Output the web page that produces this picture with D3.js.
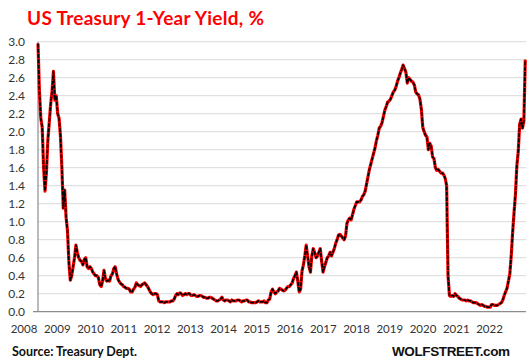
<!DOCTYPE html>
<html><head><meta charset="utf-8">
<script src="https://cdn.jsdelivr.net/npm/d3@7"></script>
<style>
html,body{margin:0;padding:0;background:#fff;}
svg{display:block;}
</style></head>
<body>
<svg id="chart" width="529" height="364"></svg>
<script>
// ---- data ----
const titleText = "US Treasury 1-Year Yield, %";
const sourceText = "Source: Treasury Dept.";
const brandText = "WOLFSTREET.com";
const startYear = 2008;          // first observation, values every half month
const stepsPerYear = 24;
const yearLabels = ["2008","2009","2010","2011","2012","2013","2014","2015","2016","2017","2018","2019","2020","2021","2022"];
const yTicks = [0,0.2,0.4,0.6,0.8,1.0,1.2,1.4,1.6,1.8,2.0,2.2,2.4,2.6,2.8,3.0];
const y2008 = [2.98,2.45,2.15,2.05,1.60,1.34,1.55,1.90,2.10,2.30,2.45,2.67,2.35,2.40,2.20,2.15,1.95,1.60,1.15,1.35,1.05,0.90,0.55,0.35];
const y2009 = [0.40,0.50,0.60,0.74,0.66,0.60,0.57,0.56,0.52,0.58,0.60,0.50,0.48,0.50,0.48,0.44,0.42,0.40,0.40,0.38,0.30,0.28,0.34,0.46];
const y2010 = [0.37,0.34,0.35,0.34,0.40,0.42,0.48,0.50,0.42,0.36,0.33,0.31,0.30,0.28,0.27,0.26,0.26,0.25,0.22,0.22,0.25,0.27,0.32,0.30];
const y2011 = [0.29,0.28,0.30,0.31,0.32,0.30,0.28,0.25,0.22,0.20,0.19,0.20,0.20,0.19,0.12,0.11,0.11,0.11,0.10,0.11,0.11,0.11,0.11,0.12];
const y2012 = [0.12,0.14,0.18,0.20,0.19,0.21,0.20,0.18,0.19,0.20,0.19,0.20,0.20,0.18,0.18,0.19,0.18,0.17,0.17,0.18,0.18,0.17,0.16,0.16];
const y2013 = [0.15,0.15,0.16,0.16,0.15,0.14,0.13,0.12,0.12,0.13,0.14,0.16,0.13,0.12,0.13,0.13,0.12,0.11,0.13,0.12,0.12,0.12,0.13,0.13];
const y2014 = [0.12,0.11,0.12,0.12,0.13,0.13,0.11,0.11,0.10,0.10,0.10,0.10,0.11,0.12,0.11,0.11,0.11,0.12,0.10,0.10,0.13,0.14,0.22,0.25];
const y2015 = [0.22,0.20,0.22,0.23,0.26,0.25,0.24,0.23,0.24,0.26,0.28,0.28,0.30,0.32,0.37,0.40,0.44,0.34,0.22,0.25,0.45,0.52,0.62,0.74];
const y2016 = [0.62,0.50,0.44,0.62,0.70,0.66,0.60,0.62,0.66,0.70,0.56,0.44,0.50,0.55,0.60,0.62,0.66,0.62,0.66,0.70,0.76,0.80,0.85,0.86];
const y2017 = [0.84,0.82,0.80,0.84,0.98,1.02,1.04,1.02,1.08,1.14,1.18,1.22,1.22,1.22,1.24,1.28,1.30,1.34,1.42,1.50,1.58,1.64,1.70,1.76];
const y2018 = [1.82,1.90,1.96,2.04,2.06,2.10,2.17,2.24,2.28,2.33,2.34,2.36,2.40,2.44,2.46,2.50,2.56,2.60,2.65,2.69,2.74,2.70,2.66,2.54];
const y2019 = [2.60,2.58,2.56,2.55,2.52,2.44,2.42,2.41,2.36,2.25,2.05,2.00,1.96,1.94,1.80,1.87,1.84,1.72,1.70,1.60,1.57,1.58,1.56,1.54];
const y2020 = [1.54,1.52,1.48,1.40,0.40,0.18,0.17,0.18,0.17,0.20,0.18,0.17,0.15,0.14,0.13,0.13,0.13,0.12,0.13,0.12,0.12,0.11,0.10,0.10];
const y2021 = [0.10,0.09,0.08,0.07,0.08,0.07,0.06,0.06,0.05,0.05,0.05,0.08,0.08,0.07,0.07,0.07,0.08,0.09,0.10,0.13,0.18,0.22,0.26,0.34];
const y2022 = [0.42,0.62,0.88,1.10,1.30,1.62,1.78,2.08,2.14,2.04,2.12,2.80];
const yieldValues = [].concat(y2008,y2009,y2010,y2011,y2012,y2013,y2014,y2015,y2016,y2017,y2018,y2019,y2020,y2021,y2022);

// ---- layout ----
const svg = d3.select("#chart");
const plotL = 38, plotR = 526, plotT = 41.7, plotB = 311.7;

const x = d3.scaleLinear().domain([2008, 2022.48]).range([plotL, plotR]);
const y = d3.scaleLinear().domain([0, 3]).range([plotB, plotT]);
const xLab = d3.scalePoint().domain(yearLabels).range([23.5, 489]);

const pts = yieldValues.map((v, i) => ({t: startYear + i / stepsPerYear, v}));

// gridlines
svg.append("g").selectAll("line").data(yTicks.filter(d => d > 0)).join("line")
  .attr("x1", plotL).attr("x2", plotR)
  .attr("y1", d => y(d)).attr("y2", d => y(d))
  .attr("stroke", "#d9d9d9").attr("stroke-width", 1);

// y axis labels
const yAxis = svg.append("g").attr("transform", `translate(${plotL},0)`)
  .call(d3.axisLeft(y).tickValues(yTicks).tickFormat(d3.format(".1f")).tickSize(0).tickPadding(13));
yAxis.select(".domain").remove();
yAxis.selectAll("text").attr("font-family", "Lato, 'Open Sans', sans-serif").attr("font-size", "12px").attr("fill", "#333");

// axis lines
svg.append("line").attr("x1", plotL).attr("x2", plotL).attr("y1", plotT).attr("y2", plotB)
  .attr("stroke", "#8c8c8c").attr("stroke-width", 1.2);
svg.append("line").attr("x1", 33).attr("x2", plotR).attr("y1", plotB).attr("y2", plotB)
  .attr("stroke", "#8c8c8c").attr("stroke-width", 1.2);

// x axis labels
const xAxis = svg.append("g").attr("transform", `translate(0,${plotB})`)
  .call(d3.axisBottom(xLab).tickSize(0).tickPadding(13));
xAxis.select(".domain").remove();
xAxis.selectAll("text").attr("font-family", "Lato, 'Open Sans', sans-serif").attr("font-size", "11.5px").attr("fill", "#333");

// line
const line = d3.line().x(d => x(d.t)).y(d => y(d.v));
svg.append("path").datum(pts).attr("d", line)
  .attr("fill", "none").attr("stroke", "#ff0000").attr("stroke-width", 3.2).attr("stroke-linejoin", "round");
svg.append("path").datum(pts).attr("d", line)
  .attr("fill", "none").attr("stroke", "#000").attr("stroke-width", 1.7)
  .attr("stroke-dasharray", "4 1.3").attr("stroke-linejoin", "round");

// title
svg.append("text").attr("x", 27).attr("y", 25).text(titleText)
  .attr("font-family", "Lato, 'Open Sans', sans-serif").attr("font-weight", "bold")
  .attr("font-size", "19px").attr("fill", "#ff0000")
  .attr("textLength", 237).attr("lengthAdjust", "spacing");

// source & brand
svg.append("text").attr("x", 12).attr("y", 356).text(sourceText)
  .attr("font-family", "Lato, 'Open Sans', sans-serif").attr("font-weight", "bold")
  .attr("font-size", "12.5px").attr("fill", "#111")
  .attr("textLength", 125).attr("lengthAdjust", "spacing");
svg.append("text").attr("x", 392).attr("y", 356).text(brandText)
  .attr("font-family", "'Liberation Sans', Arial, sans-serif").attr("font-weight", "bold")
  .attr("font-size", "13.5px").attr("fill", "#111")
  .attr("textLength", 118).attr("lengthAdjust", "spacing");
</script>
</body></html>
